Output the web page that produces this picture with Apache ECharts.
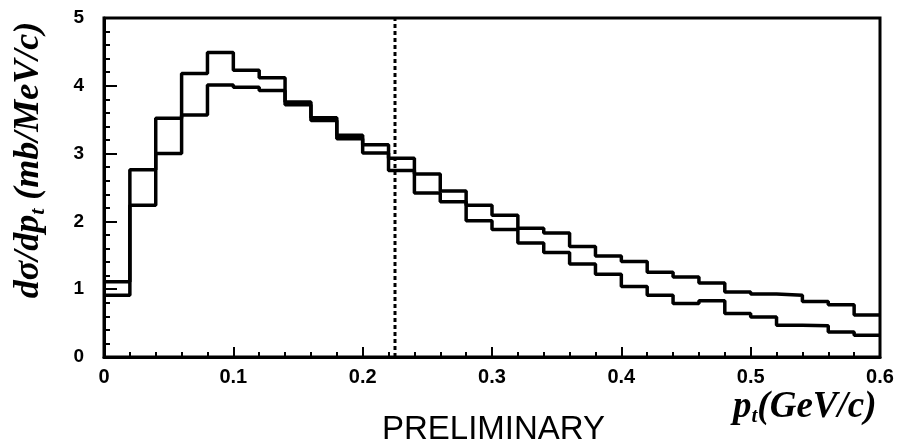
<!DOCTYPE html>
<html>
<head>
<meta charset="utf-8">
<script src="https://cdn.jsdelivr.net/npm/echarts@6/dist/echarts.min.js"></script>
<style>
  html, body { margin: 0; padding: 0; background: #fff; }
  #chart { width: 903px; height: 445px; }
</style>
</head>
<body>
<div id="chart"></div>
<script>
// bins of p_t, 0.02 GeV/c wide, from 0 to 0.6
var binStart = 0;
var binWidth = 0.02;
// histogram heights, d sigma / dp_t (mb/MeV/c)
var histA = [1.11, 2.76, 3.52, 4.18, 4.49, 4.23, 4.12, 3.76, 3.53, 3.27,
             3.13, 2.75, 2.42, 2.29, 2.01, 1.88, 1.68, 1.54, 1.37, 1.22,
             1.04, 0.91, 0.79, 0.83, 0.64, 0.59, 0.47, 0.46, 0.37, 0.32];
var histB = [0.91, 2.24, 3.00, 3.57, 4.01, 3.98, 3.93, 3.72, 3.49, 3.22,
             3.01, 2.93, 2.70, 2.45, 2.24, 2.09, 1.90, 1.83, 1.63, 1.49,
             1.41, 1.25, 1.18, 1.09, 0.96, 0.93, 0.91, 0.82, 0.77, 0.62];
// dotted cut line
var cutX = 0.225;
var cutRange = [0, 5];

function steps(vals) {
    var pts = [];
    for (var i = 0; i < vals.length; i++) {
        pts.push([+(binStart + i * binWidth).toFixed(3), vals[i]]);
    }
    pts.push([+(binStart + vals.length * binWidth).toFixed(3), vals[vals.length - 1]]);
    return pts;
}

var chart = echarts.init(document.getElementById('chart'));

var labelStyle = {
    color: '#000',
    fontFamily: 'Liberation Sans',
    fontWeight: 'bold',
    fontSize: 20
};
var serifBI = { fontFamily: 'Liberation Serif', fontStyle: 'italic', fontWeight: 'bold', fill: '#000' };

var option = {
    animation: false,
    grid: {
        left: 104, right: 23, top: 18, bottom: 88,
        show: true, borderColor: '#000', borderWidth: 3
    },
    xAxis: {
        type: 'value',
        min: 0, max: 0.6, interval: 0.1,
        axisLine: { show: true, lineStyle: { color: '#000', width: 3 } },
        axisTick: { show: true, inside: true, length: 10, lineStyle: { width: 2 } },
        minorTick: { show: true, splitNumber: 5, length: 5, lineStyle: { width: 2 } },
        splitLine: { show: false },
        axisLabel: Object.assign({ margin: 10 }, labelStyle)
    },
    yAxis: {
        type: 'value',
        min: 0, max: 5, interval: 1,
        axisLine: { show: true, lineStyle: { color: '#000', width: 3 } },
        axisTick: { show: true, inside: true, length: 13, lineStyle: { width: 2 } },
        minorTick: { show: true, splitNumber: 5, length: 6, lineStyle: { width: 2 } },
        splitLine: { show: false },
        axisLabel: Object.assign({ margin: 20 }, labelStyle, { fontSize: 19 })
    },
    series: [
        {
            type: 'line', step: 'end', symbol: 'none',
            data: steps(histA),
            lineStyle: { color: '#000', width: 3.5 }
        },
        {
            type: 'line', step: 'end', symbol: 'none',
            data: steps(histB),
            lineStyle: { color: '#000', width: 3.5 }
        },
        {
            type: 'line', symbol: 'none',
            data: [[cutX, cutRange[0]], [cutX, cutRange[1]]],
            lineStyle: { color: '#000', width: 3, type: [4, 3] }
        }
    ],
    graphic: [
        {
            type: 'text', x: 29, y: 160, rotation: Math.PI / 2,
            style: {
                text: '{a|dσ/dp}{s|t}{a| (mb/MeV/c)}',
                align: 'center', verticalAlign: 'middle',
                rich: {
                    a: Object.assign({ fontSize: 36, lineHeight: 40 }, serifBI),
                    s: Object.assign({ fontSize: 22, lineHeight: 40, verticalAlign: 'bottom',
                                       padding: [16, 0, 0, 0] }, serifBI)
                }
            }
        },
        {
            type: 'text', left: 733, top: 389,
            style: {
                text: '{a|p}{s|t}{a|(GeV/c)}',
                rich: {
                    a: Object.assign({ fontSize: 37, lineHeight: 40 }, serifBI),
                    s: Object.assign({ fontSize: 21, lineHeight: 40, verticalAlign: 'bottom',
                                       padding: [15, 0, 0, 0] }, serifBI)
                }
            }
        },
        {
            type: 'text', left: 382, top: 413,
            style: {
                text: 'PRELIMINARY',
                fontFamily: 'Liberation Sans',
                fontSize: 33,
                fill: '#000'
            }
        }
    ]
};

chart.setOption(option);
</script>
</body>
</html>
